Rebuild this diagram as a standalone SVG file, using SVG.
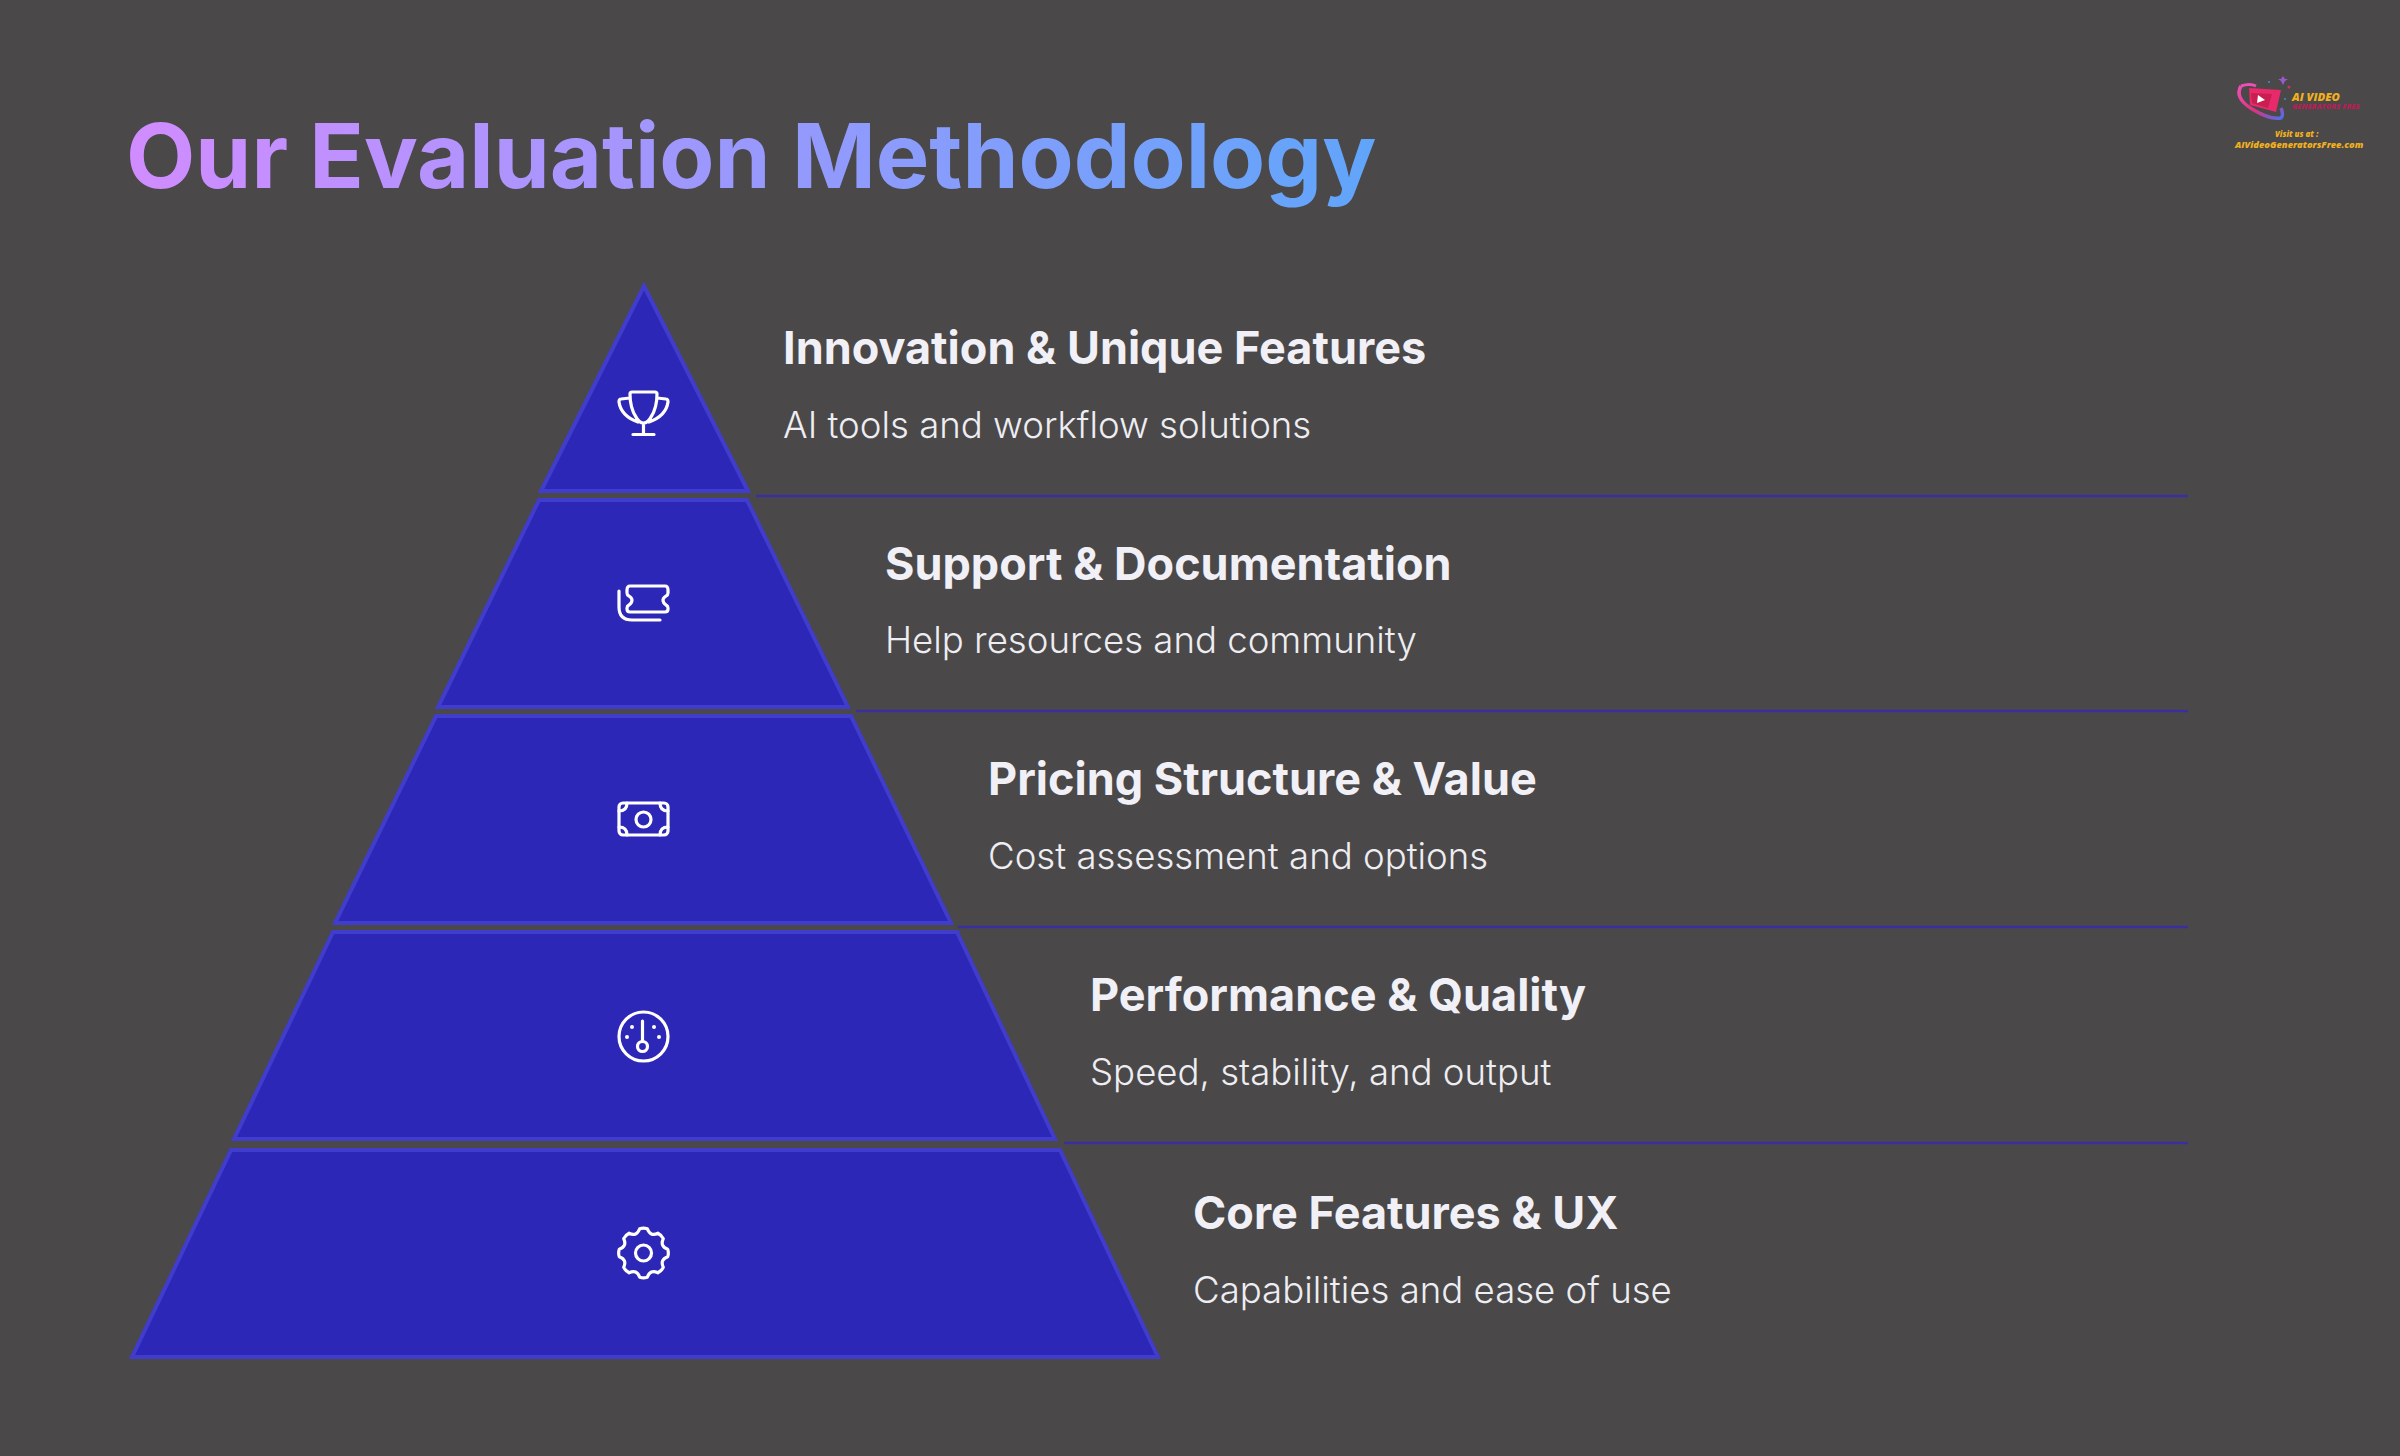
<svg xmlns="http://www.w3.org/2000/svg" width="2400" height="1456" viewBox="0 0 2400 1456">
<defs>
<linearGradient id="tg" gradientUnits="userSpaceOnUse" x1="127" y1="0" x2="1375" y2="0"><stop offset="0" stop-color="#d18cff"/><stop offset="1" stop-color="#60a5fa"/></linearGradient>
<linearGradient id="lg" x1="0" y1="0" x2="1" y2="1"><stop offset="0" stop-color="#ee4fb5"/><stop offset="0.55" stop-color="#e0307f"/><stop offset="1" stop-color="#4f6fe6"/></linearGradient>
</defs>
<style>
.t{fill:#2d27b8;stroke:#413dcc;stroke-width:4;stroke-linejoin:miter}
.l{stroke:#3a2f9e;stroke-width:2.5;fill:none}
.i{fill:none;stroke:#fff;stroke-width:3.2;stroke-linecap:round;stroke-linejoin:round}
.d{fill:#fff}
.h{font-family:Inter,"Liberation Sans",sans-serif;font-weight:700;font-size:45px;fill:#f0f0f6}
.s{font-family:Inter,"Liberation Sans",sans-serif;font-weight:300;font-size:36.600px;fill:#ededf2}
.lo{font-family:"Open Sans","Liberation Sans",sans-serif;font-weight:800;font-style:italic}
</style>
<rect width="2400" height="1456" fill="#4a4849"/>
<text id="title" x="126" y="188" font-family="Inter,'Liberation Sans',sans-serif" font-weight="700" font-size="90px" fill="url(#tg)">Our Evaluation Methodology</text>
<g id="connectors">
<path class="l" d="M756 496H2188M856 711H2188M958 927H2188M1064 1143H2188"/>
</g>
<g id="tier1">
<path class="t" d="M644 286L748 491H541Z"/>
<path class="i" d="M632 392H655Q657 392 657 394Q657 408 651 417Q648 423 643.500 423Q639 423 636 417Q630 408 630 394Q630 392 632 392ZM630 398L621 399Q619 399 619 402Q621 416 638 422M657 398L666 399Q668 399 668 402Q666 416 649 422M643.500 423V434M633 434.500H654"/>
</g>
<g id="tier2">
<path class="t" d="M539 500H747L848 707H438Z"/>
<path class="i" d="M630 586H665Q668 586 668 590V593Q668 595 666 596Q663 598 663 600Q663 603 666 605Q668 606 668 608V609Q668 612 665 612H630Q627 612 627 609V608Q627 606 629 605Q632 603 632 600Q632 598 629 596Q627 595 627 593V590Q627 586 630 586ZM619 591V607Q619 620 632 620H660"/>
</g>
<g id="tier3">
<path class="t" d="M436 716H851L951 923H335Z"/>
<g class="i"><rect x="619" y="803" width="49" height="32" rx="4"/><circle cx="643.500" cy="819.500" r="7.500"/><path d="M619 811Q627 811 627 803M668 811Q660 811 660 803M619 827Q627 827 627 835M668 827Q660 827 660 835"/></g>
</g>
<g id="tier4">
<path class="t" d="M333 932H957L1055 1139H234Z"/>
<g class="i"><circle cx="643.500" cy="1036.500" r="24.500"/><circle cx="642.500" cy="1046.500" r="5"/><path d="M642.500 1021V1041"/></g>
<circle class="d" cx="632" cy="1027" r="2"/><circle class="d" cx="654" cy="1027" r="2"/><circle class="d" cx="627" cy="1037" r="2"/><circle class="d" cx="659" cy="1037" r="2"/>
</g>
<g id="tier5">
<path class="t" d="M231 1150H1060L1158 1357H132Z"/>
<g class="i" transform="translate(643.500 1253)"><circle r="8"/><path d="M-3.800 -24.200Q0 -25.500 3.800 -24.200Q6.700 -16.200 14.400 -19.800Q18 -18 19.800 -14.400Q16.200 -6.700 24.200 -3.800Q25.500 0 24.200 3.800Q16.200 6.700 19.800 14.400Q18 18 14.400 19.800Q6.700 16.200 3.800 24.200Q0 25.500 -3.800 24.200Q-6.700 16.200 -14.400 19.800Q-18 18 -19.800 14.400Q-16.200 6.700 -24.200 3.800Q-25.500 0 -24.200 -3.800Q-16.200 -6.700 -19.800 -14.400Q-18 -18 -14.400 -19.800Q-6.700 -16.200 -3.800 -24.200Z"/></g>
</g>
<g id="label1"><text class="h" x="783" y="364">Innovation &amp; Unique Features</text><text class="s" x="783" y="438">AI tools and workflow solutions</text></g>
<g id="label2"><text class="h" x="885" y="580">Support &amp; Documentation</text><text class="s" x="885" y="653">Help resources and community</text></g>
<g id="label3"><text class="h" x="988" y="795">Pricing Structure &amp; Value</text><text class="s" x="988" y="869">Cost assessment and options</text></g>
<g id="label4"><text class="h" x="1090" y="1011">Performance &amp; Quality</text><text class="s" x="1090" y="1085">Speed, stability, and output</text></g>
<g id="label5"><text class="h" x="1193" y="1229">Core Features &amp; UX</text><text class="s" x="1193" y="1303">Capabilities and ease of use</text></g>
<g id="logo" transform="translate(2000 0)">
<path d="M241 86Q234 98 252 109Q270 120 281 118Q284 115 281 108" fill="none" stroke="url(#lg)" stroke-width="3.500"/>
<path d="M241 86Q250 83 256 86" fill="none" stroke="#ee4fb5" stroke-width="3"/>
<path d="M249 88L281 90L276 112L250 105Z" fill="#e8296b"/>
<path d="M251 93L272 94L268 108L252 103Z" fill="#c81e50"/>
<path d="M258 95L265 100L257 103Z" fill="#fff"/>
<path d="M283 76L285 79L288 79L285 81L283 85L281 81L278 79L281 79Z" fill="#9b59d0"/>
<circle cx="269" cy="82" r="1" fill="#3f8fd0"/><circle cx="289" cy="87" r="1.500" fill="#d0305f"/><circle cx="285" cy="99" r="1" fill="#3f8fd0"/>
<text class="lo" x="292" y="101" font-size="11.300px" fill="#f0b020">AI VIDEO</text>
<text class="lo" x="292" y="109" font-size="7.500px" fill="#b81e55">GENERATORS FREE</text>
<text class="lo" x="275" y="137" font-size="7.900px" fill="#f0b020">Visit us at :</text>
<text class="lo" x="235" y="148" font-size="9.300px" fill="#f0b020">AIVideoGeneratorsFree.com</text>
</g>
</svg>
